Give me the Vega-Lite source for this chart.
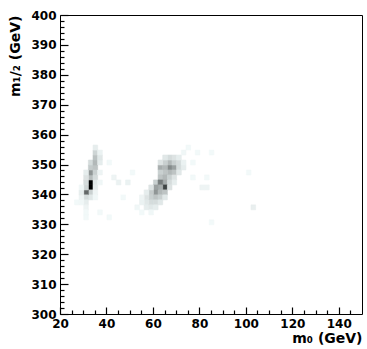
{
  "$schema": "https://vega.github.io/schema/vega-lite/v6.json",
  "width": 302,
  "height": 299,
  "autosize": {"type": "none"},
  "padding": {"left": 60, "top": 15, "right": 5, "bottom": 35},
  "background": "white",
  "config": {
    "view": {"stroke": "#000", "strokeWidth": 1},
    "font": "DejaVu Sans",
    "rect": {"binSpacing": 0},
    "axis": {"grid": false, "domainColor": "#000", "tickColor": "#000", "labelColor": "#000", "titleColor": "#000"}
  },
  "data": {
    "values": [
      {"m0": 32, "m12": 341.667, "n": 100}, {"m0": 32, "m12": 343.333, "n": 100}, {"m0": 32, "m12": 345, "n": 28},
      {"m0": 32, "m12": 346.667, "n": 45}, {"m0": 32, "m12": 348.333, "n": 22}, {"m0": 32, "m12": 350, "n": 15},
      {"m0": 32, "m12": 340, "n": 20}, {"m0": 32, "m12": 338.333, "n": 10},
      {"m0": 30, "m12": 340, "n": 62}, {"m0": 30, "m12": 341.667, "n": 18}, {"m0": 30, "m12": 343.333, "n": 15},
      {"m0": 30, "m12": 345, "n": 12}, {"m0": 30, "m12": 346.667, "n": 8}, {"m0": 30, "m12": 338.333, "n": 15},
      {"m0": 30, "m12": 336.667, "n": 8}, {"m0": 30, "m12": 335, "n": 5}, {"m0": 30, "m12": 333.333, "n": 3},
      {"m0": 30, "m12": 331.667, "n": 3},
      {"m0": 34, "m12": 348.333, "n": 25}, {"m0": 34, "m12": 350, "n": 30}, {"m0": 34, "m12": 351.667, "n": 26},
      {"m0": 34, "m12": 353.333, "n": 18}, {"m0": 34, "m12": 346.667, "n": 20}, {"m0": 34, "m12": 345, "n": 15},
      {"m0": 34, "m12": 343.333, "n": 10}, {"m0": 34, "m12": 341.667, "n": 8}, {"m0": 34, "m12": 355, "n": 8},
      {"m0": 34, "m12": 340, "n": 5}, {"m0": 34, "m12": 338.333, "n": 4},
      {"m0": 36, "m12": 350, "n": 8}, {"m0": 36, "m12": 351.667, "n": 10}, {"m0": 36, "m12": 353.333, "n": 6},
      {"m0": 36, "m12": 346.667, "n": 5}, {"m0": 36, "m12": 343.333, "n": 4},
      {"m0": 28, "m12": 338.333, "n": 5}, {"m0": 28, "m12": 340, "n": 8}, {"m0": 28, "m12": 336.667, "n": 4},
      {"m0": 28, "m12": 341.667, "n": 4},

      {"m0": 66, "m12": 348.333, "n": 50}, {"m0": 68, "m12": 348.333, "n": 40}, {"m0": 62, "m12": 348.333, "n": 35},
      {"m0": 64, "m12": 348.333, "n": 30}, {"m0": 66, "m12": 346.667, "n": 30}, {"m0": 64, "m12": 346.667, "n": 25},
      {"m0": 62, "m12": 346.667, "n": 20}, {"m0": 68, "m12": 346.667, "n": 25}, {"m0": 66, "m12": 350, "n": 30},
      {"m0": 68, "m12": 350, "n": 20}, {"m0": 64, "m12": 350, "n": 20}, {"m0": 70, "m12": 348.333, "n": 15},
      {"m0": 70, "m12": 350, "n": 15}, {"m0": 66, "m12": 351.667, "n": 15}, {"m0": 68, "m12": 351.667, "n": 12},
      {"m0": 70, "m12": 351.667, "n": 8}, {"m0": 64, "m12": 351.667, "n": 10}, {"m0": 62, "m12": 350, "n": 12},
      {"m0": 62, "m12": 345, "n": 25}, {"m0": 64, "m12": 345, "n": 30}, {"m0": 66, "m12": 345, "n": 20},
      {"m0": 64, "m12": 343.333, "n": 35}, {"m0": 66, "m12": 343.333, "n": 15}, {"m0": 60, "m12": 343.333, "n": 20},
      {"m0": 64, "m12": 341.667, "n": 75}, {"m0": 62, "m12": 343.333, "n": 55}, {"m0": 62, "m12": 341.667, "n": 35},
      {"m0": 60, "m12": 341.667, "n": 40}, {"m0": 60, "m12": 340, "n": 45}, {"m0": 62, "m12": 340, "n": 30},
      {"m0": 64, "m12": 340, "n": 25}, {"m0": 58, "m12": 340, "n": 22}, {"m0": 58, "m12": 338.333, "n": 20},
      {"m0": 60, "m12": 338.333, "n": 25}, {"m0": 62, "m12": 338.333, "n": 20}, {"m0": 64, "m12": 338.333, "n": 10},
      {"m0": 56, "m12": 338.333, "n": 12}, {"m0": 58, "m12": 336.667, "n": 15}, {"m0": 60, "m12": 336.667, "n": 15},
      {"m0": 56, "m12": 336.667, "n": 10}, {"m0": 62, "m12": 336.667, "n": 10}, {"m0": 56, "m12": 335, "n": 8},
      {"m0": 58, "m12": 335, "n": 10}, {"m0": 60, "m12": 335, "n": 8}, {"m0": 54, "m12": 336.667, "n": 6},
      {"m0": 54, "m12": 338.333, "n": 5}, {"m0": 58, "m12": 341.667, "n": 12}, {"m0": 56, "m12": 340, "n": 8},
      {"m0": 66, "m12": 341.667, "n": 12}, {"m0": 68, "m12": 345, "n": 12}, {"m0": 68, "m12": 343.333, "n": 8},
      {"m0": 52, "m12": 335, "n": 4}, {"m0": 54, "m12": 333.333, "n": 3}, {"m0": 58, "m12": 333.333, "n": 4},
      {"m0": 72, "m12": 348.333, "n": 8}, {"m0": 72, "m12": 350, "n": 6}, {"m0": 70, "m12": 346.667, "n": 10},

      {"m0": 48, "m12": 343.333, "n": 6}, {"m0": 80, "m12": 341.667, "n": 5}, {"m0": 82, "m12": 341.667, "n": 5},
      {"m0": 102, "m12": 335, "n": 7}, {"m0": 100, "m12": 346.667, "n": 3}, {"m0": 84, "m12": 353.333, "n": 3},
      {"m0": 76, "m12": 350, "n": 3}, {"m0": 78, "m12": 353.333, "n": 3}, {"m0": 82, "m12": 345, "n": 3},
      {"m0": 84, "m12": 330, "n": 3}, {"m0": 42, "m12": 345, "n": 5}, {"m0": 44, "m12": 343.333, "n": 6},
      {"m0": 40, "m12": 350, "n": 3}, {"m0": 26, "m12": 336.667, "n": 3}, {"m0": 46, "m12": 338.333, "n": 3},
      {"m0": 50, "m12": 346.667, "n": 3}, {"m0": 74, "m12": 355, "n": 3}, {"m0": 72, "m12": 353.333, "n": 4},
      {"m0": 76, "m12": 345, "n": 3}, {"m0": 36, "m12": 333.333, "n": 3}, {"m0": 40, "m12": 331.667, "n": 3}
    ]
  },
  "layer": [
    {
      "mark": {"type": "rect", "binSpacing": 0, "strokeWidth": 0.6},
      "encoding": {
        "x": {
          "field": "m0", "type": "quantitative", "bin": {"binned": true, "step": 2},
          "scale": {"domain": [20, 150], "nice": false, "zero": false},
          "axis": {
            "orient": "bottom", "offset": -7, "values": [20, 40, 60, 80, 100, 120, 140],
            "domain": false, "ticks": true, "tickSize": 7, "tickWidth": 1.2, "tickColor": "black",
            "labelPadding": 4, "labelFont": "DejaVu Sans", "labelFontWeight": "bold", "labelFontSize": 12,
            "labelFlush": false, "labelOverlap": false,
            "title": "m₀ (GeV)", "titleAnchor": "end", "titleFont": "DejaVu Sans", "titleFontSize": 14,
            "titleFontWeight": "bold", "titlePadding": 2
          }
        },
        "y": {
          "field": "m12", "type": "quantitative", "bin": {"binned": true, "step": 1.66667},
          "scale": {"domain": [300, 400], "nice": false, "zero": false},
          "axis": {
            "orient": "left", "offset": -8, "values": [300, 310, 320, 330, 340, 350, 360, 370, 380, 390, 400],
            "domain": false, "ticks": true, "tickSize": 8, "tickWidth": 1.2, "tickColor": "black",
            "labelPadding": 4, "labelFont": "DejaVu Sans", "labelFontWeight": "bold", "labelFontSize": 12,
            "labelFlush": false, "labelOverlap": false,
            "title": "m₁/₂ (GeV)", "titleAnchor": "end", "titleFont": "DejaVu Sans", "titleFontSize": 14,
            "titleFontWeight": "bold", "titlePadding": 8
          }
        },
        "color": {
          "field": "n", "type": "quantitative",
          "scale": {"domain": [0, 50, 100], "range": ["#ffffff", "#858b8b", "#000000"]},
          "legend": null
        },
        "stroke": {
          "field": "n", "type": "quantitative",
          "scale": {"domain": [0, 50, 100], "range": ["#ffffff", "#858b8b", "#000000"]},
          "legend": null
        }
      }
    },
    {
      "mark": {"type": "rect", "opacity": 0, "binSpacing": 0},
      "encoding": {
        "x": {
          "field": "m0", "type": "quantitative", "bin": {"binned": true, "step": 2},
          "axis": {"orient": "bottom", "offset": -4, "values": [25, 30, 35, 45, 50, 55, 65, 70, 75, 85, 90, 95, 105, 110, 115, 125, 130, 135, 145], "labels": false, "domain": false, "ticks": true, "tickSize": 4, "tickWidth": 1.2, "tickColor": "black", "title": null}
        },
        "y": {
          "field": "m12", "type": "quantitative", "bin": {"binned": true, "step": 1.66667},
          "axis": {"orient": "left", "offset": -4, "values": [302, 304, 306, 308, 312, 314, 316, 318, 322, 324, 326, 328, 332, 334, 336, 338, 342, 344, 346, 348, 352, 354, 356, 358, 362, 364, 366, 368, 372, 374, 376, 378, 382, 384, 386, 388, 392, 394, 396, 398], "labels": false, "domain": false, "ticks": true, "tickSize": 4, "tickWidth": 1.2, "tickColor": "black", "title": null}
        }
      }
    }
  ],
  "resolve": {"axis": {"x": "independent", "y": "independent"}}
}
